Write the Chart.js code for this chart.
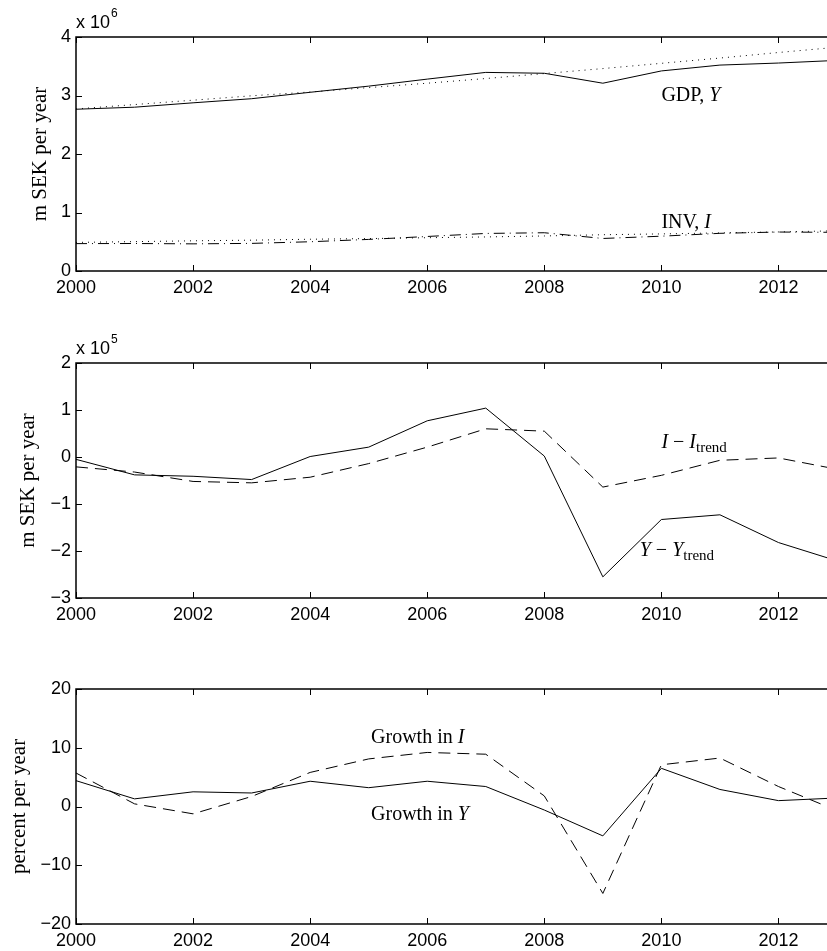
<!DOCTYPE html>
<html>
<head>
<meta charset="utf-8">
<script src="https://cdn.jsdelivr.net/npm/chart.js@4.4.1/dist/chart.umd.min.js"></script>
<style>
    html, body { margin: 0; padding: 0; background: #fff; overflow: hidden; width: 827px; height: 951px; }
    canvas { position: absolute; left: 0; }
</style>
</head>
<body>
<canvas id="gdp-levels" width="837" height="300" style="top:0"></canvas>
<canvas id="gdp-gaps" width="837" height="330" style="top:300px"></canvas>
<canvas id="gdp-growth" width="837" height="321" style="top:630px"></canvas>
<script>
'use strict';

// ---- data ----
const years     = [2000, 2001, 2002, 2003, 2004, 2005, 2006, 2007, 2008, 2009, 2010, 2011, 2012, 2013];
const xTicks    = [2000, 2002, 2004, 2006, 2008, 2010, 2012];

// levels, x 10^6 m SEK per year
const gdp       = [2.765, 2.800, 2.875, 2.945, 3.055, 3.160, 3.280, 3.395, 3.380, 3.210, 3.420, 3.520, 3.555, 3.600];
const gdpTrend  = [2.770, 2.845, 2.920, 2.995, 3.060, 3.135, 3.210, 3.290, 3.375, 3.460, 3.550, 3.640, 3.735, 3.825];
const inv       = [0.468, 0.470, 0.464, 0.472, 0.500, 0.540, 0.590, 0.642, 0.654, 0.556, 0.595, 0.644, 0.666, 0.661];
const invTrend  = [0.489, 0.502, 0.516, 0.527, 0.543, 0.554, 0.569, 0.582, 0.599, 0.620, 0.634, 0.651, 0.668, 0.687];

// deviation from trend, x 10^5 m SEK per year
const gdpGap    = [-0.05, -0.38, -0.41, -0.48, 0.01, 0.21, 0.77, 1.04, 0.02, -2.55, -1.33, -1.23, -1.82, -2.21];
const invGap    = [-0.21, -0.32, -0.52, -0.55, -0.43, -0.14, 0.21, 0.60, 0.55, -0.64, -0.39, -0.07, -0.02, -0.26];

// growth, percent per year
const gdpGrowth = [4.4, 1.3, 2.5, 2.3, 4.3, 3.2, 4.3, 3.4, -0.6, -5.0, 6.5, 2.9, 1.0, 1.45];
const invGrowth = [5.7, 0.45, -1.25, 1.7, 5.8, 8.1, 9.2, 8.9, 1.8, -14.8, 7.1, 8.25, 3.4, -0.7];

const yTicksLevels = [0, 1, 2, 3, 4];
const yTicksGaps   = [-3, -2, -1, 0, 1, 2];
const yTicksGrowth = [-20, -10, 0, 10, 20];

// ---- styling ----
const SANS  = '"Liberation Sans", Arial, Helvetica, sans-serif';
const SERIF = '"Liberation Serif", "Times New Roman", serif';
const MINUS = '\u2212';

const series = (values, dash) => ({
    data: years.map((x, i) => ({ x, y: values[i] })),
    borderColor: '#000',
    borderWidth: 1,
    borderDash: dash || [],
    pointRadius: 0,
    fill: false,
    tension: 0,
});

function drawRuns(ctx, x, y, runs) {
    ctx.textBaseline = 'alphabetic';
    ctx.textAlign = 'left';
    runs.forEach(r => {
        ctx.font = r.sub ? `15px ${SERIF}` : `${r.i ? 'italic ' : ''}20px ${SERIF}`;
        ctx.fillText(r.t, x, r.sub ? y + 4 : y);
        x += ctx.measureText(r.t).width;
    });
}

// MATLAB-like box with inward ticks, exponent and inline labels
const framePlugin = {
    id: 'frame',
    afterDraw(chart, args, opts) {
        const { ctx, chartArea: a, scales: { x, y } } = chart;
        ctx.save();
        ctx.strokeStyle = '#000';
        ctx.lineWidth = 1.5;
        ctx.strokeRect(a.left, a.top, a.right - a.left, a.bottom - a.top);

        ctx.lineWidth = 1;
        ctx.beginPath();
        x.ticks.forEach(t => {
            const px = Math.round(x.getPixelForValue(t.value)) + 0.5;
            ctx.moveTo(px, a.bottom); ctx.lineTo(px, a.bottom - 6);
            ctx.moveTo(px, a.top);    ctx.lineTo(px, a.top + 6);
        });
        y.ticks.forEach(t => {
            const py = Math.round(y.getPixelForValue(t.value)) + 0.5;
            ctx.moveTo(a.left, py); ctx.lineTo(a.left + 6, py);
        });
        ctx.stroke();

        ctx.fillStyle = '#000';
        if (opts.exponent) {
            ctx.textBaseline = 'alphabetic';
            ctx.font = `18px ${SANS}`;
            ctx.fillText('x 10', a.left, a.top - 9);
            const w = ctx.measureText('x 10').width;
            ctx.font = `12px ${SANS}`;
            ctx.fillText(opts.exponent, a.left + w + 1, a.top - 20);
        }
        (opts.notes || []).forEach(n => {
            drawRuns(ctx, x.getPixelForValue(n.x), y.getPixelForValue(n.y), n.runs);
        });
        ctx.restore();
    },
};

function makePanel(id, cfg) {
    return new Chart(document.getElementById(id).getContext('2d'), {
        type: 'line',
        data: { datasets: cfg.datasets },
        options: {
            responsive: false,
            animation: false,
            events: [],
            layout: { padding: { top: cfg.top, left: 0, right: 0, bottom: 0 } },
            plugins: {
                legend: { display: false },
                tooltip: { enabled: false },
                frame: { exponent: cfg.exponent, notes: cfg.notes },
            },
            scales: {
                x: {
                    type: 'linear',
                    min: 2000,
                    max: 2013,
                    afterBuildTicks: s => { s.ticks = xTicks.map(v => ({ value: v })); },
                    afterFit: s => { s.height = cfg.axisHeight; },
                    grid: { display: false, drawTicks: false },
                    border: { display: false },
                    ticks: { color: '#000', padding: 6, font: { family: SANS, size: 18 }, callback: v => String(v) },
                },
                y: {
                    min: cfg.yTicks[0],
                    max: cfg.yTicks[cfg.yTicks.length - 1],
                    afterBuildTicks: s => { s.ticks = cfg.yTicks.map(v => ({ value: v })); },
                    afterFit: s => { s.width = 76; },
                    grid: { display: false, drawTicks: false },
                    border: { display: false },
                    ticks: {
                        color: '#000', padding: 5, font: { family: SANS, size: 18 },
                        callback: v => String(v).replace('-', MINUS),
                    },
                    title: {
                        display: true,
                        text: cfg.yTitle,
                        color: '#000',
                        font: { family: SERIF, size: 21 },
                        padding: { top: cfg.titlePad, bottom: 0 },
                    },
                },
            },
        },
        plugins: [framePlugin],
    });
}

makePanel('gdp-levels', {
    top: 37, axisHeight: 29, yTicks: yTicksLevels, yTitle: 'm SEK per year', titlePad: 28, exponent: '6',
    datasets: [
        series(gdp),
        series(gdpTrend, [1, 5]),
        series(inv, [11, 5, 1, 5]),
        series(invTrend, [1, 5]),
    ],
    notes: [
        { x: 2010.0, y: 2.906, runs: [{ t: 'GDP, ' }, { t: 'Y', i: true }] },
        { x: 2010.0, y: 0.73,  runs: [{ t: 'INV, ' }, { t: 'I', i: true }] },
    ],
});

makePanel('gdp-gaps', {
    top: 63, axisHeight: 32, yTicks: yTicksGaps, yTitle: 'm SEK per year', titlePad: 16, exponent: '5',
    datasets: [
        series(gdpGap),
        series(invGap, [12, 7]),
    ],
    notes: [
        { x: 2010.0, y: 0.19,  runs: [{ t: 'I', i: true }, { t: ' ' + MINUS + ' ' }, { t: 'I', i: true }, { t: 'trend', sub: true }] },
        { x: 2009.63, y: -2.11, runs: [{ t: 'Y', i: true }, { t: ' ' + MINUS + ' ' }, { t: 'Y', i: true }, { t: 'trend', sub: true }] },
    ],
});

makePanel('gdp-growth', {
    top: 59, axisHeight: 27, yTicks: yTicksGrowth, yTitle: 'percent per year', titlePad: 7,
    datasets: [
        series(gdpGrowth),
        series(invGrowth, [12, 7]),
    ],
    notes: [
        { x: 2005.04, y: 10.78, runs: [{ t: 'Growth in ' }, { t: 'I', i: true }] },
        { x: 2005.04, y: -2.3,  runs: [{ t: 'Growth in ' }, { t: 'Y', i: true }] },
    ],
});
</script>
</body>
</html>
